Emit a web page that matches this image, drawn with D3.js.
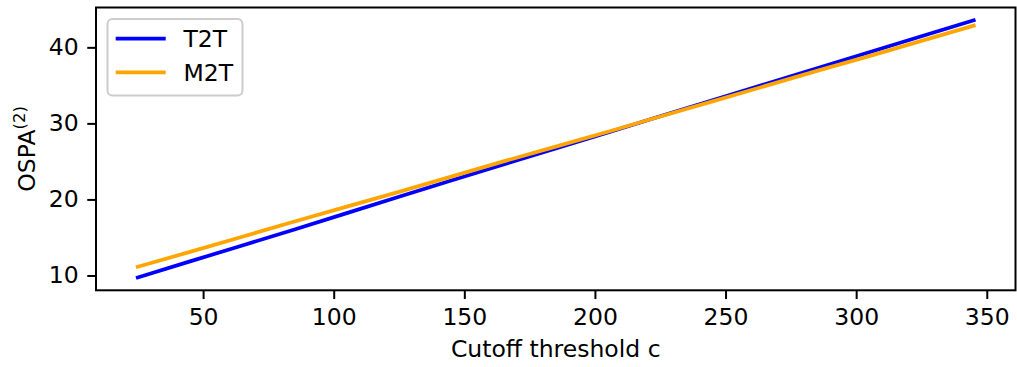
<!DOCTYPE html>
<html>
<head>
<meta charset="utf-8">
<script src="https://cdn.jsdelivr.net/npm/d3@7"></script>
<style>
    body { margin: 0; background: #fff; }
    svg { display: block; font-family: "DejaVu Sans", sans-serif; }
</style>
</head>
<body>
<svg id="chart-svg"></svg>
<script>
// cutoff thresholds c
const cutoffs = [25, 45, 65, 85, 105, 125, 145, 165, 185, 205, 225, 245, 265, 285, 305, 325, 345]
// OSPA(2) per method
const t2t = [9.74, 11.85, 13.95, 16.05, 18.2, 20.35, 22.5, 24.6, 26.7, 28.8, 30.95, 33.05, 35.15, 37.25, 39.35, 41.45, 43.55]
const m2t = [11.14, 13.1, 15.1, 17.1, 19.05, 21.0, 23.0, 25.0, 26.95, 28.9, 30.9, 32.9, 34.9, 36.9, 38.85, 40.85, 42.85]
const seriesNames = ['T2T', 'M2T']
const seriesColors = ['#0000ff', '#ffa500']
const xTicks = [50, 100, 150, 200, 250, 300, 350]
const yTicks = [10, 20, 30, 40]

const width = 1017, height = 367
const margin = {left: 96, right: 1.5, top: 7.5, bottom: 76.7}
const fontSize = 23.5

const svg = d3.select('#chart-svg')
    .attr('width', width)
    .attr('height', height)

// 5% padding like matplotlib autoscale
function padded(ext) {
    const p = (ext[1] - ext[0]) * 0.05
    return [ext[0] - p, ext[1] + p]
}

const x = d3.scaleLinear()
    .domain(padded(d3.extent(cutoffs)))
    .range([margin.left, width - margin.right])

const y = d3.scaleLinear()
    .domain(padded(d3.extent(t2t.concat(m2t))))
    .range([height - margin.bottom, margin.top])

const series = [t2t, m2t].map((vals, i) => ({
    name: seriesNames[i],
    color: seriesColors[i],
    values: vals.map((v, j) => [cutoffs[j], v])
}))

const line = d3.line()
    .x(d => x(d[0]))
    .y(d => y(d[1]))

svg.append('g')
    .selectAll('path')
    .data(series)
    .join('path')
    .attr('d', d => line(d.values))
    .attr('fill', 'none')
    .attr('stroke', d => d.color)
    .attr('stroke-width', 3.75)
    .attr('stroke-linecap', 'square')

// axes
const xAxis = svg.append('g')
    .attr('transform', 'translate(0,' + (height - margin.bottom) + ')')
    .call(d3.axisBottom(x).tickValues(xTicks).tickSize(8.75).tickSizeOuter(0).tickPadding(9))
const yAxis = svg.append('g')
    .attr('transform', 'translate(' + margin.left + ',0)')
    .call(d3.axisLeft(y).tickValues(yTicks).tickSize(8.75).tickSizeOuter(0).tickPadding(8.5))

;[xAxis, yAxis].forEach(g => {
    g.select('.domain').remove()
    g.selectAll('line').attr('stroke', '#000').attr('stroke-width', 2)
    g.selectAll('text')
        .attr('fill', '#000')
        .style('font-size', fontSize + 'px')
        .style('font-family', '"DejaVu Sans", sans-serif')
})

// frame
svg.append('rect')
    .attr('x', margin.left)
    .attr('y', margin.top)
    .attr('width', width - margin.right - margin.left)
    .attr('height', height - margin.bottom - margin.top)
    .attr('fill', 'none')
    .attr('stroke', '#000')
    .attr('stroke-width', 2)

// axis labels
svg.append('text')
    .attr('x', (margin.left + width - margin.right) / 2)
    .attr('y', 356.5)
    .attr('text-anchor', 'middle')
    .style('font-size', fontSize + 'px')
    .text('Cutoff threshold c')

const yLabel = svg.append('text')
    .attr('transform', 'translate(34.5,' + ((margin.top + height - margin.bottom) / 2) + ') rotate(-90)')
    .attr('text-anchor', 'middle')
    .style('font-size', fontSize + 'px')
yLabel.append('tspan').text('OSPA')
yLabel.append('tspan')
    .attr('dy', -10)
    .style('font-size', '16.5px')
    .text('(2)')

// legend
const legend = svg.append('g')
legend.append('rect')
    .attr('x', 107.5)
    .attr('y', 19)
    .attr('width', 135)
    .attr('height', 76.5)
    .attr('rx', 5)
    .attr('fill', 'rgba(255,255,255,0.8)')
    .attr('stroke', '#cccccc')
    .attr('stroke-width', 2)

const items = legend.selectAll('g.item')
    .data(series)
    .join('g')
    .attr('class', 'item')
    .attr('transform', (d, i) => 'translate(0,' + (38.7 + i * 33.6) + ')')
items.append('line')
    .attr('x1', 115.7)
    .attr('x2', 165.7)
    .attr('stroke', d => d.color)
    .attr('stroke-width', 3.75)
items.append('text')
    .attr('x', 183.5)
    .attr('y', 8.3)
    .style('font-size', fontSize + 'px')
    .text(d => d.name)
</script>
</body>
</html>
